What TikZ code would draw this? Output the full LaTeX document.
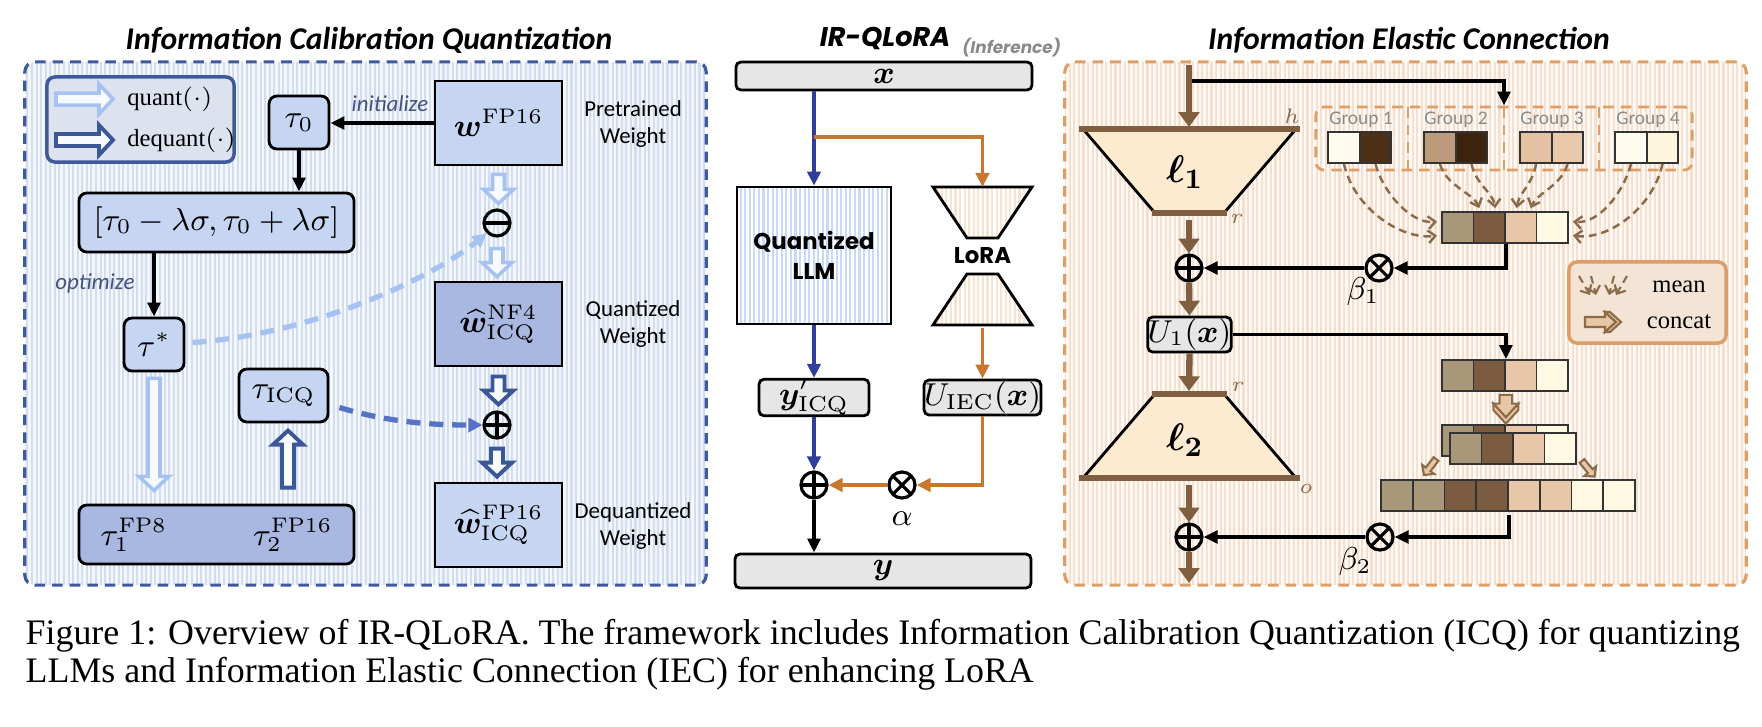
\documentclass[tikz,border=0pt]{standalone}
\usepackage{amsmath}
\usepackage{bm}
\usepackage{fontspec}
\newfontfamily\calibri{Carlito}
\newfontfamily\poppins{Poppins}
\newfontfamily\capfnt{Liberation Serif}
\usepackage{tikz}
\usetikzlibrary{%
        arrows.meta,
        calc,
        patterns.meta,
        positioning,
    }
\definecolor{icqborder}{HTML}{3F5A9C}
\definecolor{icqlight}{HTML}{C6D6F2}
\definecolor{icqdark}{HTML}{A9B8E1}
\definecolor{icqstripe}{HTML}{D3DDF0}
\definecolor{icqback}{HTML}{F3F6FB}
\definecolor{qarrcol}{HTML}{A6C2F0}
\definecolor{dqarrcol}{HTML}{3A5797}
\definecolor{legblue}{HTML}{DCE2EE}
\definecolor{slate}{HTML}{44527F}
\definecolor{lightdash}{HTML}{A6C2F0}
\definecolor{middash}{HTML}{5572C4}
\definecolor{llmblue}{HTML}{2F3E9B}
\definecolor{llmstripe}{HTML}{C9DAF6}
\definecolor{loraorange}{HTML}{C8772F}
\definecolor{lorastripe}{HTML}{F8E2D0}
\definecolor{boxgray}{HTML}{E6E6E6}
\definecolor{iecborder}{HTML}{DE9E68}
\definecolor{iecstripe}{HTML}{F5E0CF}
\definecolor{iecback}{HTML}{FEF9F5}
\definecolor{brownline}{HTML}{7F5F40}
\definecolor{trapfill}{HTML}{FCEBD1}
\definecolor{legpeach}{HTML}{F4E4D6}
\definecolor{catfill}{HTML}{E8C6A6}
\definecolor{dashbrown}{HTML}{8C6B4B}
\definecolor{grouptext}{HTML}{8A8A8A}
\definecolor{cream}{HTML}{FFFCEF}
\definecolor{paleyellow}{HTML}{FDF5DC}
\definecolor{darkbrown}{HTML}{4D2E17}
\definecolor{deepbrown}{HTML}{3D220E}
\definecolor{midtan}{HTML}{BC9B7D}
\definecolor{peachA}{HTML}{E3C2A3}
\definecolor{peachB}{HTML}{E9C9AC}
\definecolor{meanA}{HTML}{A89779}
\definecolor{meanB}{HTML}{7C5C40}
\definecolor{meanC}{HTML}{E8C7A9}
\definecolor{meanD}{HTML}{FFF8E2}
\tikzset{%
    hollow/.pic={%
        \draw[pic actions] (0, -6) -- (#1 - 14, -6) -- (#1 - 14, -15)
            -- (#1, 0) -- (#1 - 14, 15) -- (#1 - 14, 6) -- (0, 6) -- cycle;
    },
    concat/.pic={%
        \draw[pic actions] (0, -5) -- (#1, -5) -- (#1, -10) -- (#1 + 11, 0)
            -- (#1, 10) -- (#1, 5) -- (0, 5) -- cycle;
        \draw[pic actions] (#1, -10) -- (#1 + 5, -10) -- (#1 + 16, 0)
            -- (#1 + 5, 10) -- (#1, 10) -- (#1 + 11, 0) -- cycle;
    },
    stripes/.style 2 args={%
        preaction={fill=#1},
        pattern={Lines[angle=90, distance=1.3pt, line width=.6pt]},
        pattern color=#2,
    },
    panel/.style={%
        rounded corners=.1cm,
        line width=.9pt,
        dash pattern=on 3pt off 2pt,
        inner sep=0pt,
    },
    icqpanel/.style={panel, draw=icqborder, stripes={icqback}{icqstripe}},
    iecpanel/.style={panel, draw=iecborder, stripes={iecback}{iecstripe}},
    wbox/.style={%
        draw,
        line width=.8pt,
        fill=icqlight,
        inner sep=0pt,
        font=\fontsize{9}{10}\selectfont,
    },
    wdark/.style={wbox, fill=icqdark},
    taubox/.style={wbox, rounded corners=.08cm},
    graybox/.style={%
        draw,
        line width=.8pt,
        fill=boxgray,
        rounded corners=.05cm,
        inner sep=0pt,
        font=\fontsize{8.8}{10}\selectfont,
    },
    opnode/.style={circle, draw, line width=.9pt, minimum size=.26cm, inner sep=0pt},
    oplus/.style={opnode, path picture={%
        \draw[line width=.9pt]
            (path picture bounding box.west) -- (path picture bounding box.east)
            (path picture bounding box.north) -- (path picture bounding box.south);
    }},
    ominus/.style={opnode, path picture={%
        \draw[line width=.9pt]
            (path picture bounding box.west) -- (path picture bounding box.east);
    }},
    otimes/.style={opnode, path picture={%
        \draw[line width=.9pt]
            ([shift={(45:.2cm)}] path picture bounding box.center)
            -- ([shift={(225:.2cm)}] path picture bounding box.center)
            ([shift={(135:.2cm)}] path picture bounding box.center)
            -- ([shift={(-45:.2cm)}] path picture bounding box.center);
    }},
    blackarr/.style={line width=1.1pt, -{Triangle[length=4pt, width=3.6pt]}},
    bluearr/.style={line width=1pt, draw=llmblue, -{Triangle[length=4pt, width=3.8pt]}},
    orangearr/.style={line width=1pt, draw=loraorange, -{Triangle[length=4pt, width=3.8pt]}},
    brownflow/.style={line width=1.8pt, draw=brownline, -{Triangle[length=4.2pt, width=5.8pt]}},
    meanarr/.style={%
        draw=dashbrown,
        line width=.7pt,
        dash pattern=on 2.2pt off 1.4pt,
        -{Straight Barb[length=2pt, width=3.6pt]},
    },
    qarr/.style={draw=qarrcol, fill=white!85!icqlight, line width=1pt},
    dqarr/.style={draw=dqarrcol, fill=white!85!icqlight, line width=1.1pt},
    catarr/.style={draw=dashbrown, fill=catfill, line width=.6pt},
    qlegend/.style={draw=icqborder, fill=legblue, line width=1pt, rounded corners=.08cm},
    clegend/.style={draw=iecborder, fill=legpeach, line width=1pt, rounded corners=.08cm},
    trap/.style={draw=black, line width=.8pt, fill=trapfill},
    trapedge/.style={draw=brownline, line width=1.6pt},
    loratrap/.style={draw=black, line width=.8pt, stripes={white}{lorastripe}},
    llmbox/.style={draw, line width=.8pt, stripes={white}{llmstripe}, align=center,
        font=\poppins\bfseries\fontsize{6.5}{8.5}\selectfont},
    cell/.style={%
        draw=black!80,
        line width=.5pt,
        minimum width=.315cm,
        minimum height=.31cm,
        inner sep=0pt,
    },
    groupbox/.style={%
        draw=iecborder,
        line width=.8pt,
        dash pattern=on 3pt off 2pt,
    },
    paneltitle/.style={font=\calibri\bfseries\itshape\fontsize{9}{11}\selectfont},
    poptitle/.style={font=\poppins\bfseries\itshape\fontsize{7.7}{9}\selectfont},
    sidetext/.style={font=\calibri\fontsize{6.5}{7.8}\selectfont, align=center},
    slatetext/.style={font=\calibri\itshape\fontsize{6.5}{8}\selectfont, text=slate},
    legtext/.style={font=\capfnt\fontsize{7}{8}\selectfont, anchor=west},
    grouplab/.style={font=\calibri\fontsize{5.5}{6.5}\selectfont, text=grouptext},
    dimlab/.style={font=\fontsize{6.5}{7}\selectfont, text=dashbrown},
    mathlab/.style={font=\fontsize{8.8}{10}\selectfont},
    capline/.style={font=\capfnt\fontsize{10.2}{12}\selectfont, anchor=west, inner sep=0pt},
}

\begin{document}
\begin{tikzpicture}[x=0.01cm, y=-0.01cm]
    \useasboundingbox (0, 0) rectangle (1762, 726);

    %%%%%%%%%%%%%%%%%%%%%%%%%%%%%%%%%%%%%%%%%%
    % Information Calibration Quantization %
    %%%%%%%%%%%%%%%%%%%%%%%%%%%%%%%%%%%%%%%%%%
    \node[icqpanel, minimum width=6.81cm, minimum height=5.23cm]
        (icq) at (365.5, 323.5) {};
    \node[paneltitle] (icq-title) at (369, 40)
        {Information Calibration Quantization};

    % Legend
    \node[qlegend, minimum width=1.87cm, minimum height=.85cm]
        (icq-legend) at (140.5, 119.5) {};
    \path (56, 99) pic[qarr] {hollow=57};
    \path (56, 140) pic[dqarr] {hollow=57};
    \node[legtext] (quant-lab) at (115, 99) {quant$(\cdot)$};
    \node[legtext] (dequant-lab) at (115, 140) {dequant$(\cdot)$};

    % Weights
    \node[wbox, minimum width=1.27cm, minimum height=.84cm]
        (wfp) at (498.5, 123) {$\bm{w}^{\mathrm{FP16}}$};
    \node[wdark, minimum width=1.27cm, minimum height=.84cm]
        (wnf) at (498.5, 324) {$\widehat{\bm{w}}^{\mathrm{NF4}}_{\mathrm{ICQ}}$};
    \node[wbox, minimum width=1.27cm, minimum height=.84cm]
        (wdq) at (498.5, 525) {$\widehat{\bm{w}}^{\mathrm{FP16}}_{\mathrm{ICQ}}$};
    \node[sidetext] (wfp-lab) at (633, 124) {Pretrained\\Weight};
    \node[sidetext] (wnf-lab) at (633, 324) {Quantized\\Weight};
    \node[sidetext] (wdq-lab) at (633, 526) {Dequantized\\Weight};

    \node[ominus] (minus) at (497, 223) {};
    \node[oplus] (wplus) at (497, 425) {};

    % Thresholds
    \node[taubox, minimum width=.6cm, minimum height=.53cm]
        (tau0) at (299, 122.5) {$\tau_0$};
    \node[taubox, minimum width=2.75cm, minimum height=.59cm]
        (intv) at (216.5, 222.5)
        {$[\tau_0 - \lambda\sigma, \tau_0 + \lambda\sigma]$};
    \node[taubox, minimum width=.6cm, minimum height=.53cm]
        (taustar) at (154, 344.5) {$\tau^*$};
    \node[taubox, minimum width=.89cm, minimum height=.53cm]
        (tauicq) at (283.5, 395.5) {$\tau_{\mathrm{ICQ}}$};
    \node[taubox, fill=icqdark, minimum width=2.75cm, minimum height=.59cm]
        (tauhist) at (216.5, 534.5)
        {$\tau_1^{\mathrm{FP8}}$\hspace{.86cm}$\tau_2^{\mathrm{FP16}}$};

    \draw[blackarr] (wfp.west) -- (wfp.west -| tau0.east);
    \node[slatetext] (init-lab) at (390, 104) {initialize};
    \draw[blackarr] (tau0.south) -- (tau0.south |- intv.north);
    \draw[blackarr] (intv.south -| taustar.north) -- (taustar.north);
    \node[slatetext] (opt-lab) at (95, 283) {optimize};

    % Block arrows
    \path ($(wfp.south) + (0, 8)$) pic[qarr, rotate=-90] {hollow=29};
    \path ($(minus.south) + (0, 11)$) pic[qarr, rotate=-90] {hollow=28};
    \path ($(wnf.south) + (0, 9)$) pic[dqarr, rotate=-90] {hollow=28};
    \path ($(wplus.south) + (0, 9)$) pic[dqarr, rotate=-90] {hollow=28};
    \path ($(taustar.south) + (0, 6)$) pic[qarr, rotate=-90] {hollow=112};
    \path ($(tauhist.north -| tauicq.south) + (4.5, -16)$)
        pic[dqarr, rotate=90] {hollow=57};

    \draw[lightdash, line width=1.5pt, dash pattern=on 4pt off 2.5pt,
            -{Triangle[length=4pt, width=4pt]}]
        ($(taustar.east) + (7, -2)$)
        .. controls +(120, -8) and +(-55, 45) .. (minus.south west);
    \draw[middash, line width=1.5pt, dash pattern=on 4pt off 2.5pt,
            -{Triangle[length=4pt, width=4pt]}]
        ($(tauicq.east) + (10, 12)$)
        .. controls +(50, 15) and +(-50, 0) .. (wplus.west);

    %%%%%%%%%%%%
    % IR-QLoRA %
    %%%%%%%%%%%%
    \node[poptitle] (qlora-title) at (885, 38) {IR-QLoRA};
    \node[font=\poppins\bfseries\itshape\fontsize{4.8}{5}\selectfont,
            text=grouptext, anchor=base west, inner sep=0pt]
        (inf-title) at ($(qlora-title.base east) + (-1, 7)$) {(Inference)};

    \node[graybox, minimum width=2.96cm, minimum height=.28cm]
        (xin) at (884, 76) {$\bm{x}$};
    \node[llmbox, minimum width=1.54cm, minimum height=1.37cm]
        (llm) at (814, 255.5) {Quantized\\LLM};
    \path[loratrap] (933, 187) -- (1032, 187) -- (998, 238) -- (967, 238) -- cycle;
    \path[loratrap] (967, 274) -- (998, 274) -- (1032, 325) -- (933, 325) -- cycle;
    \coordinate (lora-top) at (982.5, 187);
    \coordinate (lora-bot) at (982.5, 328);
    \coordinate (split) at (814, 137);
    \node[font=\poppins\bfseries\fontsize{6.5}{8}\selectfont]
        (lora) at (982.5, 256) {LoRA};
    \node[graybox, minimum width=1.1cm, minimum height=.35cm]
        (yq) at (814, 397.5) {$\bm{y}'_{\mathrm{ICQ}}$};
    \node[graybox, minimum width=.97cm, minimum height=.35cm]
        (uiec) at (982.5, 397.5) {$U_{\mathrm{IEC}}(\bm{x})$};
    \node[oplus] (sum) at (814, 485) {};
    \node[otimes] (alpha-op) at (902, 485) {};
    \node[mathlab, below=0pt of alpha-op] (alpha) {$\alpha$};
    \node[graybox, minimum width=2.96cm, minimum height=.34cm]
        (yout) at (883, 571) {$\bm{y}$};

    \draw[bluearr] (xin.south -| llm.north) -- (llm.north);
    \draw[orangearr] (split) -| (lora-top);
    \draw[bluearr] (llm.south) -- (yq.north);
    \draw[orangearr] (lora-bot) -- (uiec.north);
    \draw[orangearr] (uiec.south) |- (alpha-op.east);
    \draw[orangearr] (alpha-op.west) -- (sum.east);
    \draw[bluearr] (yq.south) -- (sum.north);
    \draw[blackarr] (sum.south) -- (sum.south |- yout.north);

    %%%%%%%%%%%%%%%%%%%%%%%%%%%%%%%%
    % Information Elastic Connection %
    %%%%%%%%%%%%%%%%%%%%%%%%%%%%%%%%
    \node[iecpanel, minimum width=6.81cm, minimum height=5.23cm]
        (iec) at (1405.5, 323.5) {};
    \node[paneltitle] (iec-title) at (1409, 40) {Information Elastic Connection};

    \coordinate (iec-in) at (1189, 65);
    \coordinate (tap1) at (1189, 81);
    \coordinate (l1-top) at (1189, 127);
    \coordinate (l1-bot) at (1189, 213);
    \coordinate (l2-top) at (1189, 391);
    \coordinate (l2-bot) at (1189, 478);
    \coordinate (iec-out) at (1189, 583);

    % Layers
    \path[trap] (1083, 129) -- (1296, 129) -- (1224, 213) -- (1155, 213) -- cycle;
    \draw[trapedge] (1079, 129) -- (1300, 129);
    \draw[trapedge] (1152, 213) -- (1227, 213);
    \node[font=\fontsize{11}{12}\selectfont] (l1) at (1185, 172) {$\bm{\ell}_{\bm{1}}$};
    \node[dimlab] (h-lab) at (1292, 116) {$h$};
    \node[dimlab] (r1-lab) at (1237, 219) {$r$};

    \path[trap] (1155, 394) -- (1224, 394) -- (1296, 478) -- (1083, 478) -- cycle;
    \draw[trapedge] (1152, 394) -- (1227, 394);
    \draw[trapedge] (1079, 478) -- (1300, 478);
    \node[font=\fontsize{11}{12}\selectfont] (l2) at (1185, 440) {$\bm{\ell}_{\bm{2}}$};
    \node[dimlab] (r2-lab) at (1238, 387) {$r$};
    \node[dimlab] (o-lab) at (1306, 489) {$o$};

    % Groups
    \node[groupbox, rounded corners=.08cm, minimum width=3.76cm, minimum height=.63cm,
            inner sep=0pt]
        (groups) at (1504, 138.5) {};
    \foreach \xx in {1408, 1504, 1599}{%
        \draw[groupbox] (\xx, 107) -- (\xx, 170);
    };
    \foreach \i/\xx in {1/1361, 2/1456, 3/1552, 4/1648}{%
        \node[grouplab] (glab-\i) at (\xx, 120) {Group \i};
    };
    \foreach \name/\xx/\col in {%
        g1a/1344/cream, g1b/1375.5/darkbrown,
        g2a/1440/midtan, g2b/1471.5/deepbrown,
        g3a/1536/peachA, g3b/1567.5/peachB,
        g4a/1631/cream, g4b/1662.5/paleyellow%
    }{%
        \node[cell, fill=\col] (\name) at (\xx, 147.5) {};
    };

    % Vectors
    \foreach \i/\col in {1/meanA, 2/meanB, 3/meanC, 4/meanD}{%
        \node[cell, fill=\col] (m\i) at (1442 + 31.5 * \i - 15.75, 227.5) {};
        \node[cell, fill=\col] (v\i) at (1442 + 31.5 * \i - 15.75, 375.5) {};
        \node[cell, fill=\col] (s\i) at (1442 + 31.5 * \i - 15.75, 440.5) {};
    };
    \foreach \i/\col in {1/meanA, 2/meanB, 3/meanC, 4/meanD}{%
        \node[cell, fill=\col] (t\i) at (1450 + 31.5 * \i - 15.75, 448.5) {};
    };
    \foreach \i/\col in {%
        1/meanA, 2/meanA, 3/meanB, 4/meanB, 5/meanC, 6/meanC, 7/meanD, 8/meanD%
    }{%
        \node[cell, minimum width=.3175cm, fill=\col]
            (c\i) at (1381 + 31.75 * \i - 15.875, 495.5) {};
    };

    % Mean
    \draw[meanarr] (g1a.south) .. controls +(10, 45) and +(-35, 5) .. ($(m1.west) + (-4, 8)$);
    \draw[meanarr] (g1b.south) .. controls +(8, 30) and +(-25, 3) .. ($(m1.west) + (-4, -6)$);
    \draw[meanarr] (g2a.south) .. controls +(6, 22) and +(-6, -15) .. ($(m2.north) + (-10, -3)$);
    \draw[meanarr] (g2b.south) .. controls +(4, 20) and +(-2, -15) .. ($(m2.north) + (6, -3)$);
    \draw[meanarr] (g3a.south) .. controls +(-3, 20) and +(2, -15) .. ($(m3.north) + (-4, -3)$);
    \draw[meanarr] (g3b.south) .. controls +(-6, 22) and +(6, -15) .. ($(m3.north) + (10, -3)$);
    \draw[meanarr] (g4a.south) .. controls +(-8, 30) and +(25, 3) .. ($(m4.east) + (4, -6)$);
    \draw[meanarr] (g4b.south) .. controls +(-10, 45) and +(35, 5) .. ($(m4.east) + (4, 8)$);

    % Concat
    \path ($(v2.south east) + (0, 3)$) pic[catarr, rotate=-90, scale=1.25] {concat=7};
    \path (1436, 459) pic[catarr, scale=.5, rotate=-127] {hollow=40};
    \path (1582, 461) pic[catarr, scale=.5, rotate=-51] {hollow=40};

    % Ops
    \node[oplus] (sum1) at (1189, 268) {};
    \node[otimes] (beta1-op) at (1379, 268) {};
    \node[mathlab] (beta1) at (1363, 292) {$\beta_1$};
    \node[graybox, minimum width=.75cm, minimum height=.35cm]
        (u1) at (1189.5, 334.5) {$U_1(\bm{x})$};
    \node[oplus] (sum2) at (1189, 537) {};
    \node[otimes] (beta2-op) at (1380, 537) {};
    \node[mathlab] (beta2) at (1355, 562) {$\beta_2$};

    \draw[blackarr] (tap1) -| (groups.north);
    \draw[brownflow] (iec-in) -- (l1-top);
    \draw[brownflow] ($(l1-bot) + (0, 7)$) -- (sum1.north);
    \draw[blackarr] (m2.south east) |- (beta1-op.east);
    \draw[blackarr] (beta1-op.west) -- (sum1.east);
    \draw[brownflow] (sum1.south) -- (u1.north);
    \draw[blackarr] (u1.east) -| (v2.north east);
    \draw[brownflow] (u1.south) -- (l2-top);
    \draw[brownflow] ($(l2-bot) + (0, 7)$) -- (sum2.north);
    \draw[blackarr] ($(c4.south east) + (0, 3)$) |- (beta2-op.east);
    \draw[blackarr] (beta2-op.west) -- (sum2.east);
    \draw[brownflow] (sum2.south) -- (iec-out);

    % Legend
    \node[clegend, minimum width=1.57cm, minimum height=.81cm]
        (iec-legend) at (1647.5, 302.5) {};
    \foreach \xa/\xb in {1579/1590, 1591/1596, 1614/1609, 1627/1616}{%
        \draw[meanarr, line width=.6pt] (\xa, 276) -- (\xb, 295);
    };
    \node[legtext, anchor=center] (mean-lab) at (1679, 287) {mean};
    \path (1585, 322) pic[catarr] {concat=20};
    \node[legtext, anchor=center] (concat-lab) at (1679, 322) {concat};

    %%%%%%%%%%%
    % Caption %
    %%%%%%%%%%%
    \node[capline] (cap-1) at (25, 636) {Figure 1: Overview of IR-QLoRA. The
        framework includes Information Calibration Quantization (ICQ) for quantizing};
    \node[capline] (cap-2) at (25, 674) {LLMs and Information Elastic Connection
        (IEC) for enhancing LoRA};

\end{tikzpicture}
\end{document}
